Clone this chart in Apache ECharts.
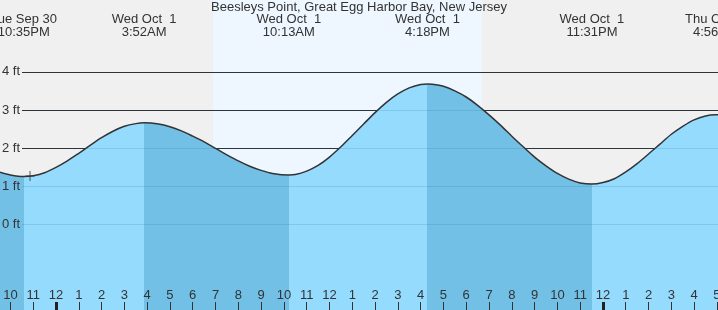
<!DOCTYPE html>
<html><head><meta charset="utf-8">
<script src="https://cdn.jsdelivr.net/npm/echarts@6/dist/echarts.min.js"></script>
<style>html,body{margin:0;padding:0;background:#f0f0f0}#c{width:718px;height:310px}</style>
</head><body><div id="c"></div>
<script>
const chartTitle = 'Beesleys Point, Great Egg Harbor Bay, New Jersey';
// hours since midnight, Wed Oct 1
const curveHours = [-2.46, -2.0, -1.417, -1.0, -0.5, 0, 0.5, 1, 1.5, 2, 2.5, 3, 3.5, 3.867,
  4.5, 5, 5.5, 6, 6.5, 7, 7.5, 8, 8.5, 9, 9.5, 10.217,
  10.5, 11, 11.5, 12, 12.5, 13, 13.5, 14, 14.5, 15, 15.5, 16, 16.3,
  16.5, 17, 17.5, 18, 18.5, 19, 19.5, 20, 20.5, 21, 21.5, 22, 22.5, 23, 23.517,
  24, 24.5, 25, 25.5, 26, 26.5, 27, 27.5, 28, 28.5, 28.933, 29.05];
const curveFeet = [1.36, 1.29, 1.25, 1.27, 1.35, 1.49, 1.66, 1.86, 2.07, 2.27, 2.44, 2.57, 2.64, 2.66,
  2.63, 2.56, 2.45, 2.31, 2.16, 1.99, 1.82, 1.66, 1.52, 1.41, 1.33, 1.29,
  1.30, 1.39, 1.54, 1.76, 2.03, 2.33, 2.63, 2.93, 3.20, 3.42, 3.58, 3.67, 3.68,
  3.675, 3.62, 3.50, 3.34, 3.12, 2.87, 2.60, 2.31, 2.03, 1.76, 1.53, 1.33, 1.18, 1.08, 1.05,
  1.09, 1.19, 1.37, 1.59, 1.84, 2.10, 2.36, 2.57, 2.74, 2.84, 2.87, 2.87];
const tideHours = [-1.417, 3.867, 10.217, 16.3, 23.517, 28.933];
const tideDates = ['Tue Sep 30', 'Wed Oct  1', 'Wed Oct  1', 'Wed Oct  1', 'Wed Oct  1', 'Thu Oct  2'];
const tideTimes = ['10:35PM', '3:52AM', '10:13AM', '4:18PM', '11:31PM', '4:56AM'];
const sunHours = [6.89, 18.69];
const hourTicks = [-2, -1, 0, 1, 2, 3, 4, 5, 6, 7, 8, 9, 10, 11, 12, 13, 14, 15, 16, 17, 18, 19, 20, 21, 22, 23, 24, 25, 26, 27, 28, 29];
const midnightTicks = [0, 24];
const footTicks = [0, 1, 2, 3, 4];
const nowMarker = [[-1.14, 1.26]];

const xMin = -2.457, xMax = 29.048, yMin = -2.26, yMax = 5.89;
const LIGHT = '#94dbfe', DARK = '#72c0e6';
const FONT = 'Liberation Sans';
const FS = 13;

function hourLabel(v) {
  const h = ((Math.round(v) % 12) + 12) % 12;
  return String(h === 0 ? 12 : h);
}
function tideLabel(v) {
  let best = 0;
  tideHours.forEach((t, i) => { if (Math.abs(t - v) < Math.abs(tideHours[best] - v)) best = i; });
  return tideDates[best] + '\n' + tideTimes[best];
}

const pieces = [];
const bounds = [-Infinity].concat(tideHours.slice(0, 5), [Infinity]);
for (let i = 0; i < bounds.length - 1; i++) {
  const p = { color: (i % 2 === 0) ? DARK : LIGHT };
  if (isFinite(bounds[i])) p.gte = bounds[i];
  if (isFinite(bounds[i + 1])) p.lt = bounds[i + 1];
  pieces.push(p);
}

const chart = echarts.init(document.getElementById('c'));
chart.setOption({
  animation: false,
  backgroundColor: '#f0f0f0',
  textStyle: { fontFamily: FONT },
  title: {
    text: chartTitle, left: 'center', top: 1, padding: 0,
    textStyle: { fontSize: FS, fontWeight: 'normal', color: '#333', fontFamily: FONT }
  },
  grid: [
    { left: 0, right: 0, top: 0, bottom: 0, containLabel: false, outerBoundsMode: 'none' },
    { left: 22, right: 0, top: 0, bottom: 0, containLabel: false, outerBoundsMode: 'none' }
  ],
  xAxis: [
    { type: 'value', gridIndex: 0, position: 'bottom', min: xMin, max: xMax,
      axisLine: { show: false, onZero: false }, splitLine: { show: false },
      axisTick: { show: true, inside: true, length: 8, customValues: hourTicks, lineStyle: { color: '#333', width: 1 } },
      axisLabel: { show: true, inside: true, margin: 8, customValues: hourTicks, formatter: hourLabel, fontSize: FS, color: '#333', fontFamily: FONT },
      z: 5 },
    { type: 'value', gridIndex: 0, position: 'bottom', min: xMin, max: xMax,
      axisLine: { show: false, onZero: false }, splitLine: { show: false },
      axisTick: { show: true, inside: true, length: 8, customValues: midnightTicks, lineStyle: { color: '#222', width: 3 } },
      axisLabel: { show: false },
      z: 5 },
    { type: 'value', gridIndex: 0, position: 'top', min: xMin, max: xMax,
      axisLine: { show: false, onZero: false }, splitLine: { show: false }, axisTick: { show: false },
      axisLabel: { show: true, inside: true, margin: 13, customValues: tideHours, formatter: tideLabel, fontSize: FS, lineHeight: 13, color: '#333', fontFamily: FONT },
      z: 5 },
    { type: 'value', gridIndex: 1, min: 0, max: 1, show: false, axisLine: { onZero: false } }
  ],
  yAxis: [
    { type: 'value', gridIndex: 0, min: yMin, max: yMax, show: false, axisLine: { onZero: false } },
    { type: 'value', gridIndex: 1, min: yMin, max: yMax,
      axisLine: { show: false, onZero: false }, axisTick: { show: false }, splitLine: { show: false },
      axisLabel: { show: true, margin: 2, customValues: footTicks, formatter: v => v + ' ft', fontSize: FS, color: '#333', fontFamily: FONT },
      z: 5 }
  ],
  visualMap: {
    type: 'piecewise', show: false, seriesIndex: 2, dimension: 0, pieces: pieces
  },
  series: [
    { type: 'line', xAxisIndex: 0, yAxisIndex: 0, data: [], z: 0, silent: true,
      markArea: { silent: true, z: 0, itemStyle: { color: '#eef7ff' },
        data: [[{ xAxis: sunHours[0] }, { xAxis: sunHours[1] }]] } },
    { type: 'line', xAxisIndex: 3, yAxisIndex: 1, data: [], z: 1, silent: true,
      markLine: { silent: true, z: 1, symbol: ['none', 'none'], label: { show: false },
        lineStyle: { color: '#333', width: 1, type: 'solid' },
        data: footTicks.map(v => ({ yAxis: v })) } },
    { type: 'line', xAxisIndex: 0, yAxisIndex: 0, z: 2, silent: true,
      data: curveHours.map((h, i) => [h, curveFeet[i]]),
      smooth: 0.3, symbol: 'none',
      lineStyle: { color: '#333', width: 1.5 },
      areaStyle: { origin: 'start', opacity: 1 } },
    { type: 'line', xAxisIndex: 3, yAxisIndex: 1, data: [], z: 3, silent: true,
      markLine: { silent: true, z: 3, symbol: ['none', 'none'], label: { show: false },
        lineStyle: { color: 'rgba(0,70,120,0.13)', width: 1, type: 'solid' },
        data: footTicks.map(v => ({ yAxis: v })) } },
    { type: 'scatter', xAxisIndex: 0, yAxisIndex: 0, z: 4, silent: true,
      data: nowMarker, symbol: 'path://M0,4.5h9v1h-9zM4,0h1v10h-1z', symbolSize: [9, 10],
      itemStyle: { color: '#333' } }
  ]
});
</script>
</body></html>
